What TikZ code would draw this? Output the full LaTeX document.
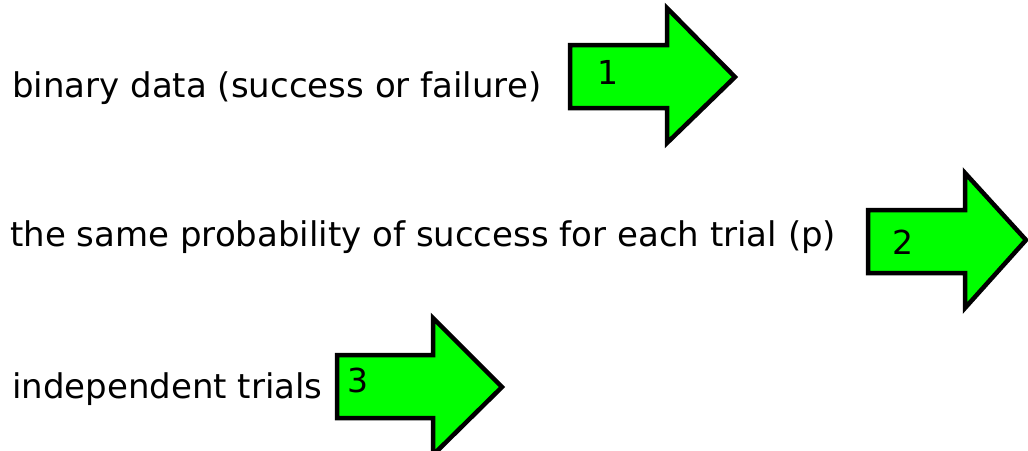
\documentclass[tikz,border=0pt]{standalone}
\usepackage{fontspec}
\setmainfont{DejaVu Sans}
\begin{document}
\begin{tikzpicture}[x=1pt,y=-1pt,
  label/.style={anchor=west,inner sep=0pt,font=\fontsize{34}{38}\selectfont},
  numtxt/.style={inner sep=0pt,font=\fontsize{33}{36}\selectfont},
  bigarrow/.style={draw=black,line width=4.5pt,fill=arrowgreen,line join=miter}]
\definecolor{arrowgreen}{RGB}{0,255,0}
\useasboundingbox (0,0) rectangle (1028,450);
% block arrows: shaft left edge, shaft top/bottom, head base, head top/bottom, tip
\draw[bigarrow] (570,45) -- (667,45) -- (667,8) -- (735,77) -- (667,143) -- (667,108) -- (570,108) -- cycle;
\draw[bigarrow] (868,210) -- (965,210) -- (965,173) -- (1026,240) -- (965,308) -- (965,273) -- (868,273) -- cycle;
\draw[bigarrow] (337,355) -- (433,355) -- (433,318) -- (502,387) -- (433,455) -- (433,418) -- (337,418) -- cycle;
% step labels
\node[label] (t1) at (12,88) {binary data (success or failure)};
\node[label] (t2) at (10,237) {the same probability of success for each trial (p)};
\node[label] (t3) at (12,389) {independent trials};
% arrow numbers
\node[numtxt] (n1) at (608,72) {1};
\node[numtxt] (n2) at (903,242) {2};
\node[numtxt] (n3) at (358,380) {3};
\end{tikzpicture}
\end{document}
